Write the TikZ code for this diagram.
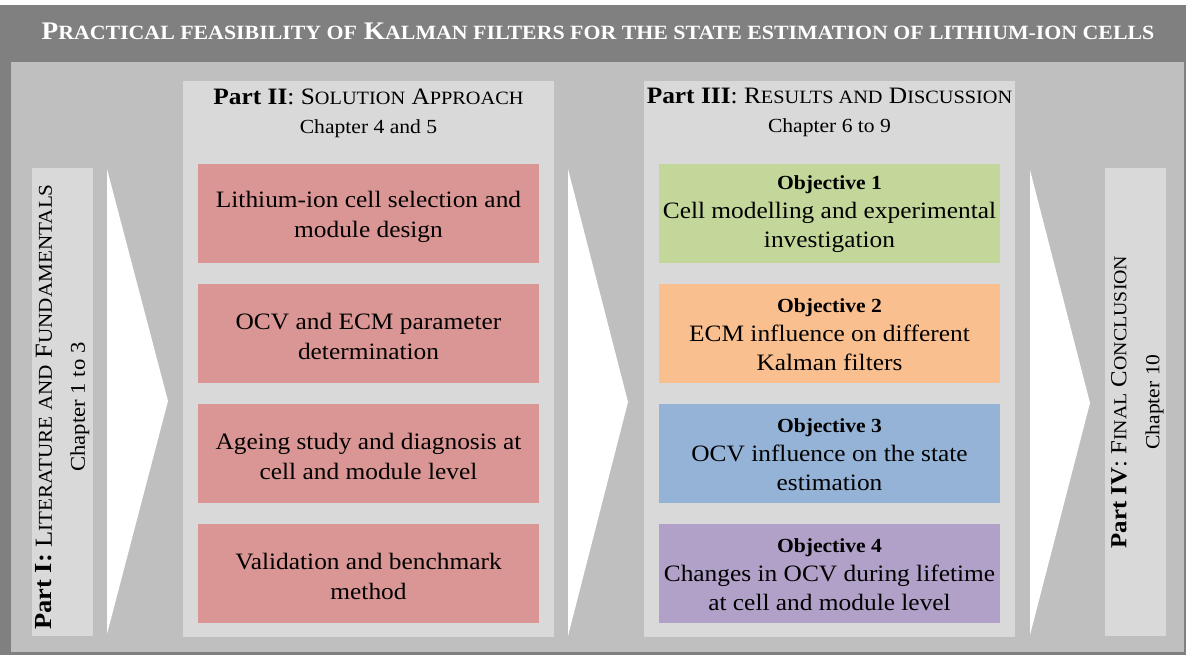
\documentclass[tikz,border=0pt]{standalone}
\usepackage{fontspec}
\setmainfont{Liberation Serif}[FakeStretch=1.08]
\newfontfamily\scfont{Liberation Serif}[Scale=0.8,FakeStretch=1.08]
\newcommand\smc[1]{{\scfont\MakeUppercase{#1}}}
\definecolor{darkg}{HTML}{808080}
\definecolor{midg}{HTML}{BFBFBF}
\definecolor{lightg}{HTML}{D9D9D9}
\definecolor{redb}{HTML}{DA9694}
\definecolor{greenb}{HTML}{C4D79B}
\definecolor{orangeb}{HTML}{FABF8F}
\definecolor{blueb}{HTML}{95B3D7}
\definecolor{purpleb}{HTML}{B1A0C7}
\tikzset{
  area/.style={draw=none, inner sep=0pt, outer sep=0pt, anchor=north west},
  boxtxt/.style={align=center, inner sep=0pt, font=\fontsize{23.5}{30}\selectfont},
  objtxt/.style={align=center, inner sep=0pt, font=\fontsize{23.5}{29}\selectfont},
  headtxt/.style={align=center, inner sep=0pt, font=\fontsize{23.5}{29}\selectfont},
  sidetxt/.style={align=center, inner sep=0pt, rotate=90},
  arrowshape/.style={fill=white, draw=none}
}
\begin{document}
\begin{tikzpicture}[x=1pt,y=-1pt]
\useasboundingbox (0,0) rectangle (1186,655);
\fill[white] (0,0) rectangle (1186,655);
% outer frame
\node[area, fill=darkg, minimum width=1186, minimum height=650] (outer) at (0,5) {};
\node[area, fill=midg, minimum width=1173, minimum height=590] (inner) at (11,62) {};
% title
\node[anchor=base, text=white, inner sep=0pt, font=\fontsize{25.3}{30}\selectfont\bfseries] (title) at (598,40)
  {P\smc{ractical feasibility of} K\smc{alman filters for the state estimation of lithium-ion cells}};
% panels
\node[area, fill=lightg, minimum width=61, minimum height=468] (p1) at (32,168) {};
\node[area, fill=lightg, minimum width=371, minimum height=556] (p2) at (183,81) {};
\node[area, fill=lightg, minimum width=371, minimum height=556] (p3) at (644,81) {};
\node[area, fill=lightg, minimum width=61, minimum height=468] (p4) at (1105,168) {};
% arrows
\coordinate (a1t) at (107,169); \coordinate (a1p) at (168,401); \coordinate (a1b) at (107,634);
\coordinate (a2t) at (568,169); \coordinate (a2p) at (628,402); \coordinate (a2b) at (568,636);
\coordinate (a3t) at (1030,170); \coordinate (a3p) at (1090,403); \coordinate (a3b) at (1030,635);
\fill[arrowshape] (a1t) -- (a1p) -- (a1b) -- cycle;
\fill[arrowshape] (a2t) -- (a2p) -- (a2b) -- cycle;
\fill[arrowshape] (a3t) -- (a3p) -- (a3b) -- cycle;
% side texts
\node[sidetxt, font=\fontsize{24.5}{33}\selectfont] (t1) at ([yshift=-5pt]p1.center) {\textbf{Part I:} L\smc{iterature and} F\smc{undamentals}\\{\fontsize{21}{33}\selectfont Chapter 1 to 3}};
\node[sidetxt, font=\fontsize{23}{33}\selectfont] (t4) at ([xshift=2pt]p4.center) {\textbf{Part IV}: F\smc{inal} C\smc{onclusion}\\{\fontsize{20}{33}\selectfont Chapter 10}};
% headers
\node[headtxt, anchor=north] (h2) at (368.5,89) {\textbf{Part II}: S\smc{olution} A\smc{pproach}\\{\fontsize{20}{29}\selectfont Chapter 4 and 5}};
\node[headtxt, anchor=north] (h3) at (829.5,88) {\textbf{Part III}: R\smc{esults and} D\smc{iscussion}\\{\fontsize{20}{31}\selectfont Chapter 6 to 9}};
% red boxes
\foreach \i/\yy in {1/164,2/284,3/404,4/524}{
  \node[area, fill=redb, minimum width=341, minimum height=99] (r\i) at (198,\yy) {};
}
\node[boxtxt] (rt1) at ([yshift=-3pt]r1.center) {Lithium-ion cell selection and\\module design};
\node[boxtxt] (rt2) at ([yshift=-3pt]r2.center) {OCV and ECM parameter\\determination};
\node[boxtxt] (rt3) at ([yshift=-3pt]r3.center) {Ageing study and diagnosis at\\cell and module level};
\node[boxtxt] (rt4) at ([yshift=-3pt]r4.center) {Validation and benchmark\\method};
% objective boxes
\node[area, fill=greenb, minimum width=341, minimum height=99] (o1) at (659,164) {};
\node[area, fill=orangeb, minimum width=341, minimum height=99] (o2) at (659,284) {};
\node[area, fill=blueb, minimum width=341, minimum height=99] (o3) at (659,404) {};
\node[area, fill=purpleb, minimum width=341, minimum height=99] (o4) at (659,524) {};
\node[objtxt] (ot1) at ([yshift=-1pt]o1.center) {{\fontsize{20}{29}\selectfont\bfseries Objective 1}\\Cell modelling and experimental\\investigation};
\node[objtxt] (ot2) at ([yshift=-1pt]o2.center) {{\fontsize{20}{29}\selectfont\bfseries Objective 2}\\ECM influence on different\\Kalman filters};
\node[objtxt] (ot3) at ([yshift=-1pt]o3.center) {{\fontsize{20}{29}\selectfont\bfseries Objective 3}\\OCV influence on the state\\estimation};
\node[objtxt] (ot4) at ([yshift=-1pt]o4.center) {{\fontsize{20}{29}\selectfont\bfseries Objective 4}\\Changes in OCV during lifetime\\at cell and module level};
\end{tikzpicture}
\end{document}
